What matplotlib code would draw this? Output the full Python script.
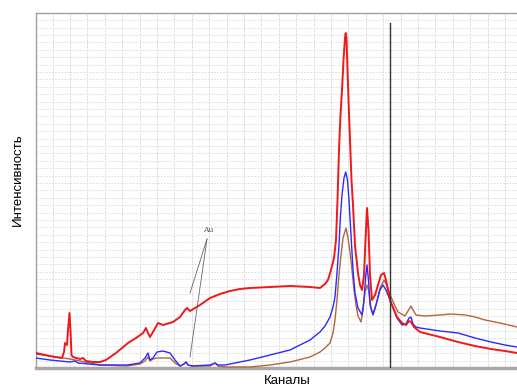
import numpy as np
import matplotlib
matplotlib.use("Agg")
import matplotlib.pyplot as plt

plt.rcParams['font.family'] = ['Liberation Sans', 'DejaVu Sans']

# spectra: channel / intensity (arbitrary units)
red_ch = [0, 18, 38, 52, 56, 58, 62, 64, 67, 69, 71, 74, 80, 88, 94, 100, 114, 128, 140, 160,
          184, 200, 214, 220, 224, 228, 234, 244, 254, 274, 288, 298, 302, 308, 328, 348, 368,
          388, 408, 428, 468, 508, 548, 568, 578, 584, 590, 596, 600, 603, 606, 609, 612, 615,
          618, 619.4, 621, 623, 625, 628, 631, 634, 638, 644, 648, 652, 656, 659, 662, 665, 668,
          672, 678, 684, 690, 696, 700, 708, 716, 722, 732, 740, 746, 750, 756, 768, 808, 844,
          878, 910, 938, 962]
red_int = [150, 130, 110, 100, 160, 250, 230, 380, 550, 380, 130, 110, 100, 90, 100, 70, 60, 60,
           80, 150, 250, 300, 350, 400, 350, 310, 360, 450, 430, 460, 510, 580, 600, 570, 630,
           700, 740, 770, 790, 800, 810, 820, 810, 800, 840, 880, 980, 1100, 1280, 1680, 2180,
           2530, 2780, 3080, 3300, 3350, 3300, 2980, 2680, 2280, 1880, 1630, 1230, 950, 830, 780,
           930, 1280, 1600, 1380, 930, 680, 730, 830, 930, 950, 880, 680, 580, 510, 450, 430, 470,
           460, 410, 360, 310, 260, 220, 190, 170, 150]

blue_ch = [0, 28, 68, 78, 84, 128, 182, 208, 218, 224, 228, 234, 242, 254, 268, 278, 288, 296,
           300, 304, 312, 348, 358, 364, 378, 428, 468, 508, 548, 568, 578, 588, 594, 598, 602,
           606, 609, 612, 616, 619.4, 623, 626, 630, 634, 638, 644, 652, 656, 659, 662, 665, 668,
           674, 680, 688, 694, 700, 708, 716, 722, 732, 740, 746, 750, 754, 760, 768, 808, 844,
           878, 910, 938, 962]
blue_int = [100, 80, 60, 70, 50, 30, 30, 50, 100, 150, 80, 100, 160, 170, 150, 80, 20, 40, 60,
            30, 20, 30, 50, 30, 30, 80, 130, 180, 280, 360, 420, 510, 610, 710, 950, 1230, 1530,
            1730, 1900, 1960, 1880, 1680, 1330, 980, 750, 600, 530, 680, 900, 1030, 880, 630, 530,
            630, 780, 830, 780, 680, 580, 500, 430, 440, 500, 510, 440, 410, 400, 370, 350, 300,
            260, 230, 210]

brown_ch = [0, 28, 68, 98, 128, 182, 208, 218, 224, 228, 234, 242, 268, 278, 288, 296, 300, 304,
            312, 348, 358, 364, 378, 428, 468, 508, 548, 568, 578, 588, 594, 598, 602, 606, 610,
            614, 620, 624, 628, 632, 636, 640, 644, 650, 654, 658, 662, 666, 670, 674, 680, 688,
            696, 702, 710, 718, 724, 738, 744, 750, 754, 760, 778, 808, 830, 858, 878, 898, 928,
            962]
brown_int = [140, 120, 90, 60, 30, 20, 40, 70, 110, 70, 90, 100, 100, 50, 20, 40, 60, 30, 20, 20,
             50, 20, 10, 10, 30, 60, 110, 160, 200, 250, 350, 480, 680, 930, 1130, 1300, 1400,
             1300, 1160, 980, 780, 630, 520, 460, 580, 760, 830, 760, 600, 540, 630, 800, 880, 820,
             710, 620, 560, 520, 570, 620, 580, 530, 520, 530, 540, 530, 510, 480, 450, 410]

marker_ch = 708
marker_top = 3450
au_label = "Au"
au_text_pos = (344, 1340)
au_targets = [(308, 750), (308, 110)]

fig = plt.figure(figsize=(5.17, 3.88), dpi=100)
ax = fig.add_axes([36 / 517, 20 / 388, 481 / 517, 355 / 388])

ax.set_xlim(0, 962)
ax.set_ylim(0, 3550)

# grid drawn by hand: dashed light gray, no tick labels
for x in np.arange(33.4, 962, 34.8):
    ax.axvline(x, color='#d9d9d9', lw=0.7, ls=(0, (2, 1.2)), zorder=0)
for y in np.arange(74, 3550, 74):
    ax.axhline(y, color='#e2e2e2', lw=0.7, ls=(0, (2, 1.2)), zorder=0)

ax.plot(brown_ch, brown_int, color='#b0673a', lw=1.0, zorder=3)
ax.plot(blue_ch, blue_int, color='#2a2aff', lw=1.0, zorder=4)
ax.plot(red_ch, red_int, color='#f01818', lw=1.4, zorder=5)

ax.plot([marker_ch, marker_ch], [0, marker_top], color='#333333', lw=1.0, zorder=6)

ax.text(au_text_pos[0], au_text_pos[1], au_label, fontsize=5.5, color='#555555',
        ha='center', va='bottom', family='DejaVu Serif')
for tx, ty in au_targets:
    ax.plot([au_text_pos[0] - 2, tx], [au_text_pos[1] - 50, ty], color='#666666', lw=0.6, zorder=7)

ax.set_xticks([])
ax.set_yticks([])
for side in ['top', 'left']:
    ax.spines[side].set_color('#a0a0a0')
    ax.spines[side].set_linewidth(1.0)
ax.spines['right'].set_visible(False)
ax.spines['bottom'].set_color('#a8a8a8')
ax.spines['bottom'].set_linewidth(2.5)

fig.text(287 / 517, 1 - 381 / 388, 'Каналы', ha='center', va='center', fontsize=9.5)
fig.text(18 / 517, 1 - 180 / 388, 'Интенсивность', ha='center', va='center',
         rotation=90, fontsize=9.5)

fig.savefig('out.png', dpi=100)
